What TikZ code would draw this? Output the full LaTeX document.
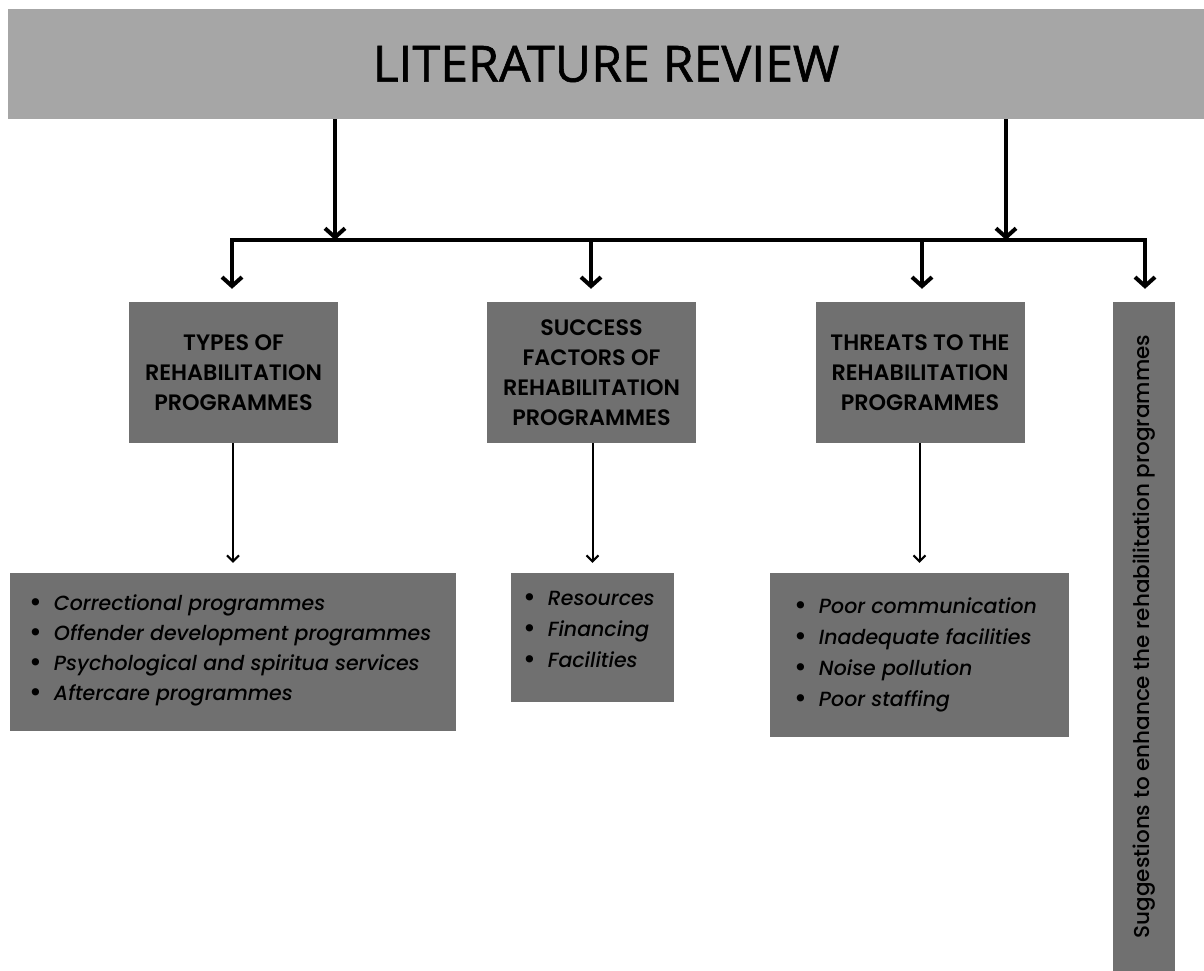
\documentclass[tikz,border=0pt]{standalone}
\usepackage{fontspec}
\setmainfont{Poppins}[BoldFont={* SemiBold}]
\newfontfamily\listfamily{Poppins}[UprightFont={* Medium}, ItalicFont={* Medium Italic}]
\newfontfamily\titlefont{Open Sans}[FakeBold=1.2]
\usetikzlibrary{arrows.meta}

\definecolor{barfill}{HTML}{A6A6A6}
\definecolor{boxfill}{HTML}{707070}

\tikzset{
  titlebar/.style={fill=barfill, minimum width=1196pt, minimum height=110pt,
    inner sep=0pt, font=\titlefont\fontsize{50}{60}\selectfont},
  headbox/.style={fill=boxfill, inner sep=0pt, align=center,
    minimum width=209pt, minimum height=141pt,
    font=\bfseries\fontsize{22.3}{30}\selectfont},
  sidebox/.style={fill=boxfill, inner sep=0pt, rotate=90,
    font=\listfamily\fontsize{21.5}{24}\selectfont},
  listbox/.style={fill=boxfill, inner sep=0pt},
  listtext/.style={inner sep=0pt, align=left, anchor=north west},
  trunk/.style={line width=4pt, line cap=rect},
  bigarrow/.style={line width=4pt, shorten >=13pt,
    -{Straight Barb[length=9pt,width=20pt]}},
  smallarrow/.style={line width=2pt, shorten >=10pt,
    -{Straight Barb[length=6pt,width=12pt]}},
}
\newcommand{\listfont}[1]{\listfamily\itshape\fontsize{20.5}{#1}\selectfont}
\newcommand{\bul}{\raisebox{-0.8pt}{\scalebox{1.35}{\upshape\textbullet}}\hspace{12pt}}

\begin{document}
\begin{tikzpicture}[x=1pt,y=-1pt]
  \useasboundingbox (0,0) rectangle (1204,971);

  % heading bar
  \node[titlebar] (title) at (606,64) {LITERATURE REVIEW};

  % topic boxes
  \node[headbox] (t1) at (233.5,372.5)
    {TYPES OF\\REHABILITATION\\PROGRAMMES};
  \node[headbox] (t2) at (591.5,372.5)
    {SUCCESS\\FACTORS OF\\REHABILITATION\\PROGRAMMES};
  \node[headbox] (t3) at (920,372.5)
    {THREATS TO THE\\REHABILITATION\\PROGRAMMES};
  \node[sidebox, minimum width=669pt, minimum height=62pt] (t4) at (1144,636.5)
    {Suggestions to enhance the rehabilitation programmes};

  % detail boxes
  \node[listbox, minimum width=446pt, minimum height=158pt] (l1) at (233,652) {};
  \node[listbox, minimum width=163pt, minimum height=129pt] (l2) at (592.5,637.5) {};
  \node[listbox, minimum width=299pt, minimum height=164pt] (l3) at (919.5,655) {};

  \node[listtext, font=\listfont{30}] (l1text) at (29,595)
    {\bul Correctional programmes\\
     \bul Offender development programmes\\
     \bul Psychological and spiritua services\\
     \bul Aftercare programmes};
  \node[listtext, font=\listfont{31}] (l2text) at (523,591)
    {\bul Resources\\
     \bul Financing\\
     \bul Facilities};
  \node[listtext, font=\listfont{31}] (l3text) at (794,598)
    {\bul Poor communication\\
     \bul Inadequate facilities\\
     \bul Noise pollution\\
     \bul Poor staffing};

  % junctions on the distribution line
  \coordinate (j1) at (335,240);
  \coordinate (j2) at (1006,240);
  \coordinate (b1) at (232,240);
  \coordinate (b2) at (591,240);
  \coordinate (b3) at (922,240);
  \coordinate (b4) at (1145,240);

  \draw[trunk] (b1) -- (b4);
  \draw[bigarrow, shorten >=0pt] (title.south -| j1) -- (j1);
  \draw[bigarrow, shorten >=0pt] (title.south -| j2) -- (j2);
  \draw[bigarrow] (b1) -- (b1 |- t1.north);
  \draw[bigarrow] (b2) -- (b2 |- t2.north);
  \draw[bigarrow] (b3) -- (b3 |- t3.north);
  \draw[bigarrow] (b4) -- (b4 |- t4.east);

  % topic to detail
  \draw[smallarrow] (t1.south -| l1.north) -- (l1.north);
  \draw[smallarrow] (t2.south -| l2.north) -- (l2.north);
  \draw[smallarrow] (t3.south -| l3.north) -- (l3.north);
\end{tikzpicture}
\end{document}
